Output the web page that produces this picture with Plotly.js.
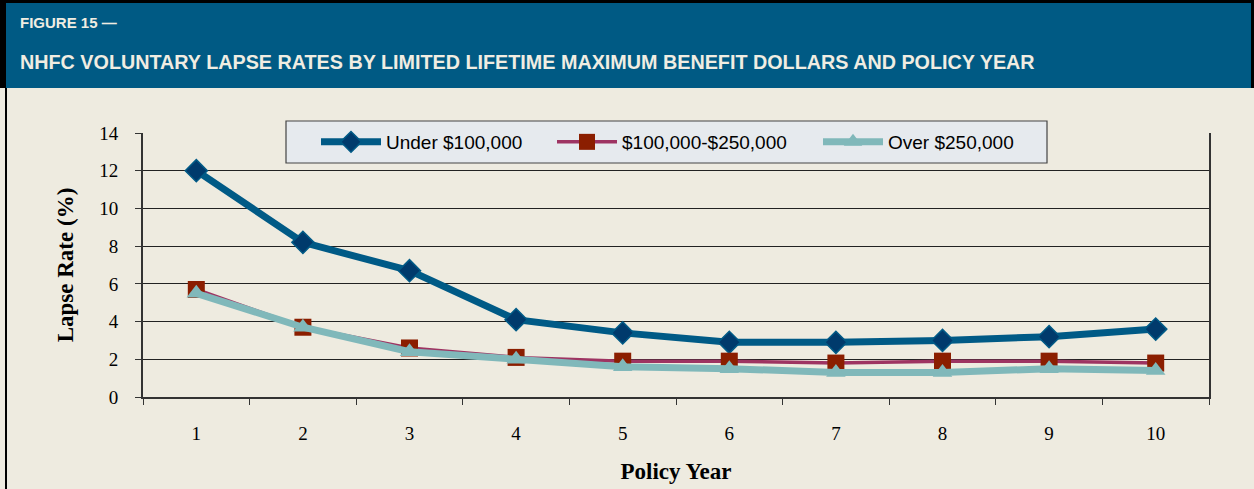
<!DOCTYPE html>
<html>
<head>
<meta charset="utf-8">
<script src="https://cdn.plot.ly/plotly-3.0.1.min.js"></script>
<style>
html,body{margin:0;padding:0;background:#eeebe0;}
#chart{width:1254px;height:489px;}
</style>
</head>
<body>
<div id="chart"></div>
<script>
// ---- data ----
const policyYears = ['1','2','3','4','5','6','7','8','9','10'];
const seriesNames = ['Under $100,000', '$100,000-$250,000', 'Over $250,000'];
const under100k   = [12.0, 8.2, 6.7, 4.1, 3.4, 2.9, 2.9, 3.0, 3.2, 3.6];
const mid100to250 = [5.7, 3.7, 2.6, 2.1, 1.9, 1.9, 1.8, 1.9, 1.9, 1.8];
const over250k    = [5.5, 3.7, 2.4, 2.0, 1.6, 1.5, 1.3, 1.3, 1.5, 1.4];
const yTicks = [0, 2, 4, 6, 8, 10, 12, 14];
const figureLabel = 'FIGURE 15 —';
const chartTitle = 'NHFC VOLUNTARY LAPSE RATES BY LIMITED LIFETIME MAXIMUM BENEFIT DOLLARS AND POLICY YEAR';

// ---- layout geometry (pixels) ----
const W = 1254, H = 489;
const L = 143, R = 1209, T = 133, B = 397;
const px = v => (v - L) / (R - L);
const py = v => (B - v) / (B - T);

const sans = '"Liberation Sans", Arial, sans-serif';
const serif = '"Liberation Serif", "Times New Roman", serif';

const traces = [
  {
    x: policyYears, y: under100k, name: seriesNames[0], type: 'scatter', mode: 'lines+markers',
    legend: 'legend',
    line: {color: '#005a86', width: 7},
    marker: {symbol: 'diamond', size: 17, color: '#003a6c', line: {color: '#005a86', width: 1.5}}
  },
  {
    x: policyYears, y: mid100to250, name: seriesNames[1], type: 'scatter', mode: 'lines+markers',
    legend: 'legend2',
    line: {color: '#9e3462', width: 3.5},
    marker: {symbol: 'square', size: 17, color: '#8b1e00', line: {width: 0}}
  },
  {
    x: policyYears, y: over250k, name: seriesNames[2], type: 'scatter', mode: 'lines+markers',
    legend: 'legend3',
    line: {color: '#80b8ba', width: 7},
    marker: {symbol: 'triangle-up', size: 17, color: '#80b8ba', line: {width: 0}}
  }
];

function legendAt(xPix) {
  return {
    orientation: 'h',
    x: px(xPix), xanchor: 'left',
    y: py(123), yanchor: 'top',
    bgcolor: 'rgba(0,0,0,0)',
    borderwidth: 0,
    font: {family: sans, size: 19, color: '#000'},
    itemwidth: 60
  };
}

const layout = {
  width: W, height: H,
  margin: {l: L, r: W - R, t: T, b: H - B, pad: 0},
  paper_bgcolor: '#eeebe0',
  plot_bgcolor: '#eeebe0',
  showlegend: true,
  legend: legendAt(316),
  legend2: legendAt(552),
  legend3: legendAt(818),
  xaxis: {
    type: 'category',
    range: [-0.5, 9.5],
    tickson: 'boundaries',
    ticks: 'outside', ticklen: 6, tickcolor: '#333', tickwidth: 1,
    showgrid: false,
    showline: true, linecolor: '#333', linewidth: 2, mirror: false,
    tickfont: {family: serif, size: 19, color: '#000'},
    ticklabelstandoff: 18,
    title: {text: 'Policy Year', font: {family: serif, size: 23, color: '#000', weight: 'bold'}, standoff: 20},
    zeroline: false, fixedrange: true
  },
  yaxis: {
    range: [0, 14],
    tickvals: yTicks,
    ticktext: yTicks.map(String),
    ticks: 'outside', ticklen: 6, tickcolor: '#333', tickwidth: 1,
    showgrid: true, gridcolor: '#222', gridwidth: 1,
    showline: true, linecolor: '#333', linewidth: 2, mirror: true,
    tickfont: {family: serif, size: 19, color: '#000'},
    ticklabelstandoff: 13,
    title: {text: 'Lapse Rate (%)', font: {family: serif, size: 23, color: '#000', weight: 'bold'}, standoff: 19},
    zeroline: false, fixedrange: true
  },
  shapes: [
    // header band with black frame
    {type: 'rect', xref: 'paper', yref: 'paper', x0: px(0), x1: px(W), y0: py(88), y1: py(0),
     fillcolor: '#000', line: {width: 0}, layer: 'above'},
    {type: 'rect', xref: 'paper', yref: 'paper', x0: px(6), x1: px(1251), y0: py(88), y1: py(3),
     fillcolor: '#005a84', line: {width: 0}, layer: 'above'},
    // left body border
    {type: 'rect', xref: 'paper', yref: 'paper', x0: px(5), x1: px(7), y0: py(H), y1: py(88),
     fillcolor: '#000', line: {width: 0}, layer: 'above'},
    // legend box
    {type: 'rect', xref: 'paper', yref: 'paper', x0: px(286), x1: px(1047), y0: py(163), y1: py(121),
     fillcolor: '#e6eaee', line: {color: '#444', width: 1.2}, layer: 'above'}
  ],
  annotations: [
    {text: figureLabel, xref: 'paper', yref: 'paper', x: px(18), y: py(22), xanchor: 'left', yanchor: 'middle',
     showarrow: false, font: {family: sans, size: 15, color: '#f0ede2', weight: 'bold'}},
    {text: chartTitle, xref: 'paper', yref: 'paper', x: px(18), y: py(62), xanchor: 'left', yanchor: 'middle',
     showarrow: false, font: {family: sans, size: 19.75, color: '#f0ede2', weight: 'bold'}}
  ]
};

Plotly.newPlot('chart', traces, layout, {displayModeBar: false, staticPlot: true});
</script>
</body>
</html>
